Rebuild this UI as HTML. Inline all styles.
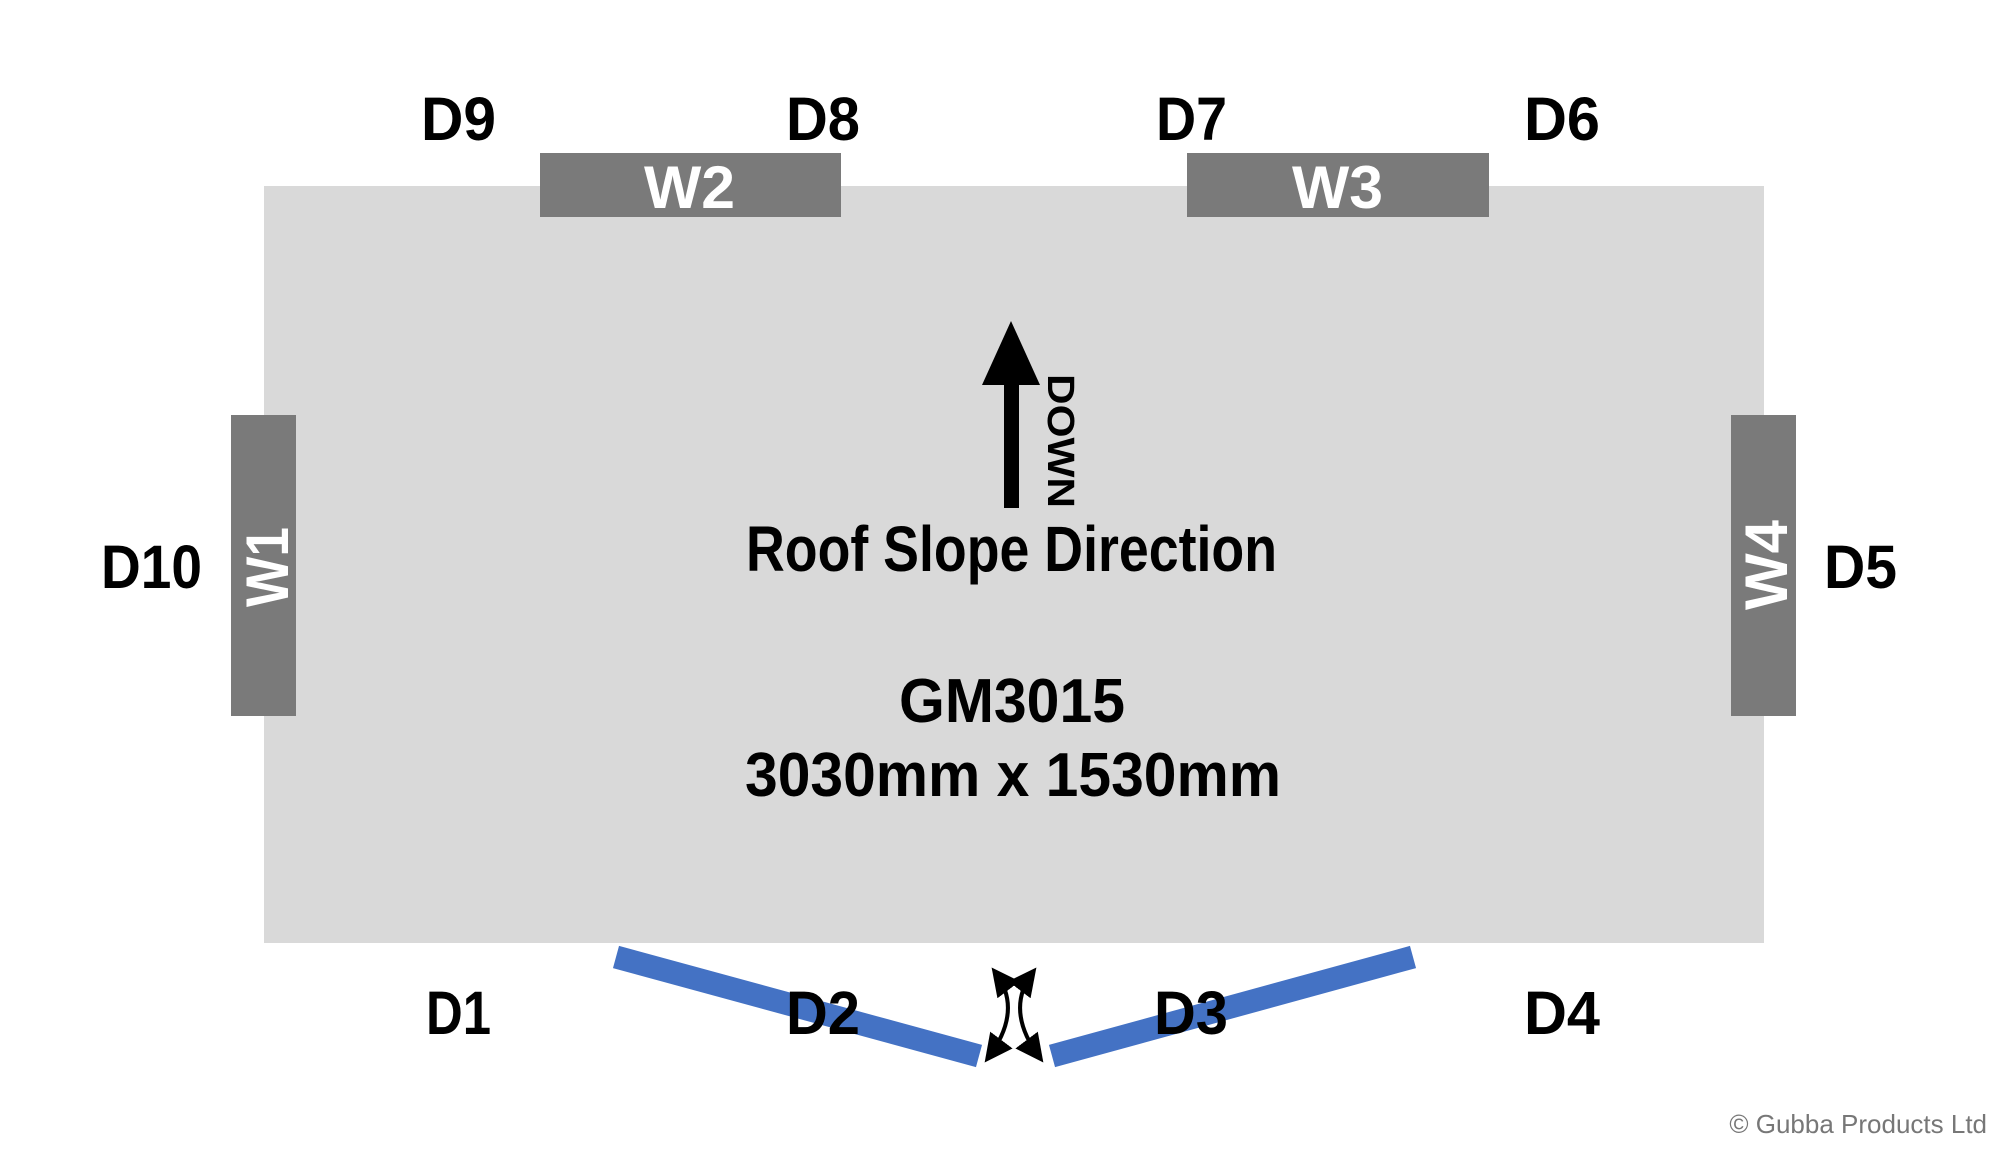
<!DOCTYPE html>
<html><head><meta charset="utf-8"><style>html,body{margin:0;padding:0;background:#fff}svg{display:block}</style></head><body>
<svg width="2000" height="1150" viewBox="0 0 2000 1150" xmlns="http://www.w3.org/2000/svg" font-family="Liberation Sans, sans-serif" font-weight="bold">
<defs>
<marker id="ah" viewBox="0 0 10 10" refX="8" refY="5" markerWidth="7" markerHeight="7" orient="auto-start-reverse" markerUnits="strokeWidth"><path d="M0,0 L10,5 L0,10 z" fill="#000"/></marker>
</defs>
<rect x="264" y="186" width="1500" height="757" fill="#d9d9d9"/>
<rect x="540" y="153" width="301" height="64" fill="#7a7a7a"/>
<rect x="1187" y="153" width="302" height="64" fill="#7a7a7a"/>
<rect x="231" y="415" width="65" height="301" fill="#7a7a7a"/>
<rect x="1731" y="415" width="65" height="301" fill="#7a7a7a"/>
<g fill="#fff" font-size="60">
<text x="644" y="208" textLength="91" lengthAdjust="spacingAndGlyphs">W2</text>
<text x="1292" y="208" textLength="91" lengthAdjust="spacingAndGlyphs">W3</text>
<text transform="translate(288,607) rotate(-90)" textLength="80" lengthAdjust="spacingAndGlyphs">W1</text>
<text transform="translate(1787,610) rotate(-90)" textLength="90" lengthAdjust="spacingAndGlyphs">W4</text>
</g>
<g fill="#000" font-size="61">
<text x="421" y="140" textLength="75" lengthAdjust="spacingAndGlyphs">D9</text>
<text x="786" y="140" textLength="74" lengthAdjust="spacingAndGlyphs">D8</text>
<text x="1156" y="140" textLength="71" lengthAdjust="spacingAndGlyphs">D7</text>
<text x="1524" y="140" textLength="76" lengthAdjust="spacingAndGlyphs">D6</text>
<text x="101" y="588" textLength="101" lengthAdjust="spacingAndGlyphs">D10</text>
<text x="1824" y="588" textLength="73" lengthAdjust="spacingAndGlyphs">D5</text>
<text x="426" y="1034" textLength="65" lengthAdjust="spacingAndGlyphs">D1</text>
<text x="1524" y="1034" textLength="76" lengthAdjust="spacingAndGlyphs">D4</text>
<text x="746" y="571" textLength="531" lengthAdjust="spacingAndGlyphs" font-size="64">Roof Slope Direction</text>
<text x="899" y="722" textLength="226" lengthAdjust="spacingAndGlyphs" font-size="62">GM3015</text>
<text x="745" y="796" textLength="536" lengthAdjust="spacingAndGlyphs" font-size="62">3030mm x 1530mm</text>
<text transform="translate(1048,374) rotate(90)" font-size="38" textLength="134" lengthAdjust="spacingAndGlyphs">DOWN</text>
</g>
<rect x="1004" y="375" width="15" height="133" fill="#000"/>
<polygon points="1011,321 982,385 1040,385" fill="#000"/>
<line x1="616" y1="957" x2="979" y2="1056" stroke="#4472c4" stroke-width="23"/>
<line x1="1052" y1="1056" x2="1413" y2="957" stroke="#4472c4" stroke-width="23"/>
<g fill="#000" font-size="61">
<text x="786" y="1034" textLength="74" lengthAdjust="spacingAndGlyphs">D2</text>
<text x="1154" y="1034" textLength="74" lengthAdjust="spacingAndGlyphs">D3</text>
</g>
<path d="M995,972 Q1024,1010 988,1058" fill="none" stroke="#000" stroke-width="4" marker-start="url(#ah)" marker-end="url(#ah)"/>
<path d="M1033,972 Q1004,1010 1040,1058" fill="none" stroke="#000" stroke-width="4" marker-start="url(#ah)" marker-end="url(#ah)"/>
<text x="1987" y="1133" text-anchor="end" font-weight="normal" font-size="26" fill="#777">© Gubba Products Ltd</text>
</svg>
</body></html>
